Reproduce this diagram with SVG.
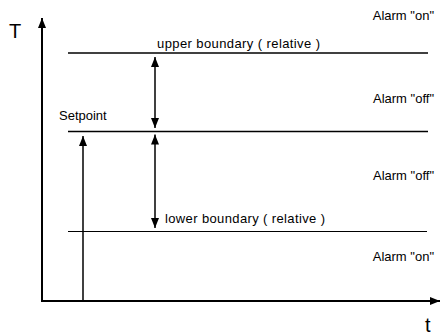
<svg xmlns="http://www.w3.org/2000/svg" width="440" height="336" viewBox="0 0 440 336">
<style>
text{font-family:"Liberation Sans",Arial,sans-serif;fill:#000}
.lbl{font-size:13px}
.big{font-size:20px}
.ln{stroke:#000;fill:none}
</style>
<defs>
<marker id="ah" viewBox="0 0 10 8" refX="10" refY="4" markerWidth="10" markerHeight="8" markerUnits="userSpaceOnUse" orient="auto-start-reverse">
<path d="M0,0 L10,4 L0,8 Z" fill="#000"/>
</marker>
</defs>
<rect width="440" height="336" fill="#fff"/>
<g id="axes">
<line class="ln" x1="42" y1="301" x2="42" y2="18" stroke-width="2" marker-end="url(#ah)"/>
<line class="ln" x1="41" y1="301" x2="440" y2="301" stroke-width="2" marker-end="url(#ah)"/>
<text class="big" x="9" y="38">T</text>
<text class="big" x="425" y="332">t</text>
</g>
<g id="upper">
<line class="ln" x1="68" y1="53" x2="428" y2="53" stroke-width="1.6"/>
<text class="lbl" x="157" y="48" textLength="163" lengthAdjust="spacing">upper boundary ( relative )</text>
</g>
<g id="setpoint">
<line class="ln" x1="68" y1="131.5" x2="428" y2="131.5" stroke-width="1.6"/>
<text class="lbl" x="59" y="120">Setpoint</text>
</g>
<g id="lower">
<line class="ln" x1="68" y1="231.5" x2="427" y2="231.5" stroke-width="1.2"/>
<text class="lbl" x="165" y="223" textLength="160" lengthAdjust="spacing">lower boundary ( relative )</text>
</g>
<g id="alarms">
<text class="lbl" x="434" y="20" text-anchor="end">Alarm "on"</text>
<text class="lbl" x="434" y="103" text-anchor="end">Alarm "off"</text>
<text class="lbl" x="434" y="180" text-anchor="end">Alarm "off"</text>
<text class="lbl" x="434" y="261" text-anchor="end">Alarm "on"</text>
</g>
<g id="connectors">
<line class="ln" x1="83" y1="301" x2="83" y2="136" stroke-width="1.5" marker-end="url(#ah)"/>
<line class="ln" x1="155" y1="57" x2="155" y2="128" stroke-width="1.5" marker-start="url(#ah)" marker-end="url(#ah)"/>
<line class="ln" x1="155" y1="134.5" x2="155" y2="228" stroke-width="1.5" marker-start="url(#ah)" marker-end="url(#ah)"/>
</g>
</svg>
